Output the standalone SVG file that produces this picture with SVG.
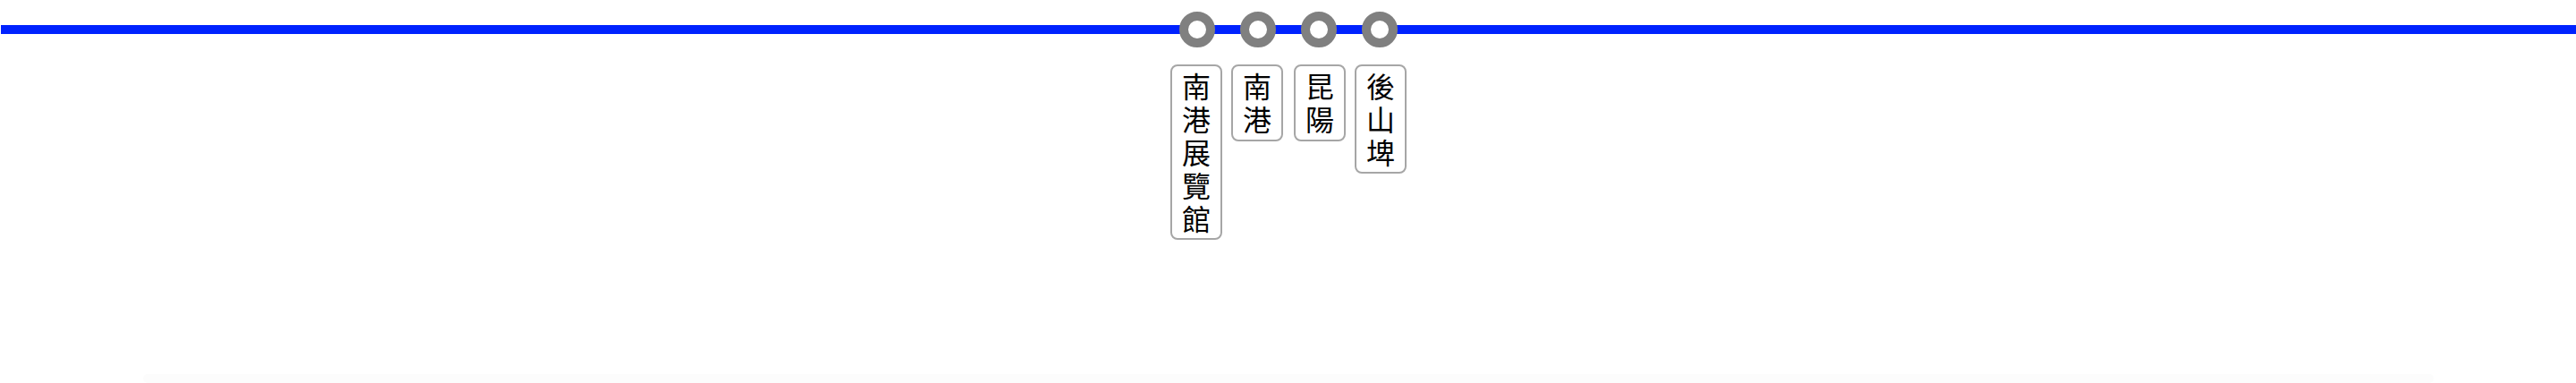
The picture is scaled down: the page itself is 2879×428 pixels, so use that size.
<svg xmlns="http://www.w3.org/2000/svg" width="2879" height="428" viewBox="0 0 2879 428">
<style>
.line{stroke:#0022ff;stroke-width:10;fill:none}
.stn{fill:#fff;stroke:#808080;stroke-width:10}
.box{fill:#fff;stroke:#a6a6a6;stroke-width:2}
.lbl{font-family:"Noto Sans CJK TC","Noto Sans CJK SC",sans-serif;font-size:32px;fill:#000;text-anchor:middle;dominant-baseline:central}
</style>
<rect width="2879" height="428" fill="#fff"/>
<rect x="160" y="418" width="2560" height="10" rx="5" fill="#fcfcfc"/>
<g id="connectors">
<line class="line" x1="1" y1="33" x2="2879" y2="33"/>
</g>
<g id="station-1">
<circle class="stn" cx="1338" cy="33" r="15"/>
<rect class="box" x="1309" y="73" width="56" height="194" rx="7"/>
<text class="lbl" x="1337" y="95">南</text>
<text class="lbl" x="1337" y="132">港</text>
<text class="lbl" x="1337" y="169">展</text>
<text class="lbl" x="1337" y="206">覽</text>
<text class="lbl" x="1337" y="243">館</text>
</g>
<g id="station-2">
<circle class="stn" cx="1406" cy="33" r="15"/>
<rect class="box" x="1377" y="73" width="56" height="84" rx="7"/>
<text class="lbl" x="1405" y="95">南</text>
<text class="lbl" x="1405" y="132">港</text>
</g>
<g id="station-3">
<circle class="stn" cx="1474" cy="33" r="15"/>
<rect class="box" x="1447" y="73" width="56" height="84" rx="7"/>
<text class="lbl" x="1475" y="95">昆</text>
<text class="lbl" x="1475" y="132">陽</text>
</g>
<g id="station-4">
<circle class="stn" cx="1542" cy="33" r="15"/>
<rect class="box" x="1515" y="73" width="56" height="120" rx="7"/>
<text class="lbl" x="1543" y="95">後</text>
<text class="lbl" x="1543" y="132">山</text>
<text class="lbl" x="1543" y="169">埤</text>
</g>
</svg>
